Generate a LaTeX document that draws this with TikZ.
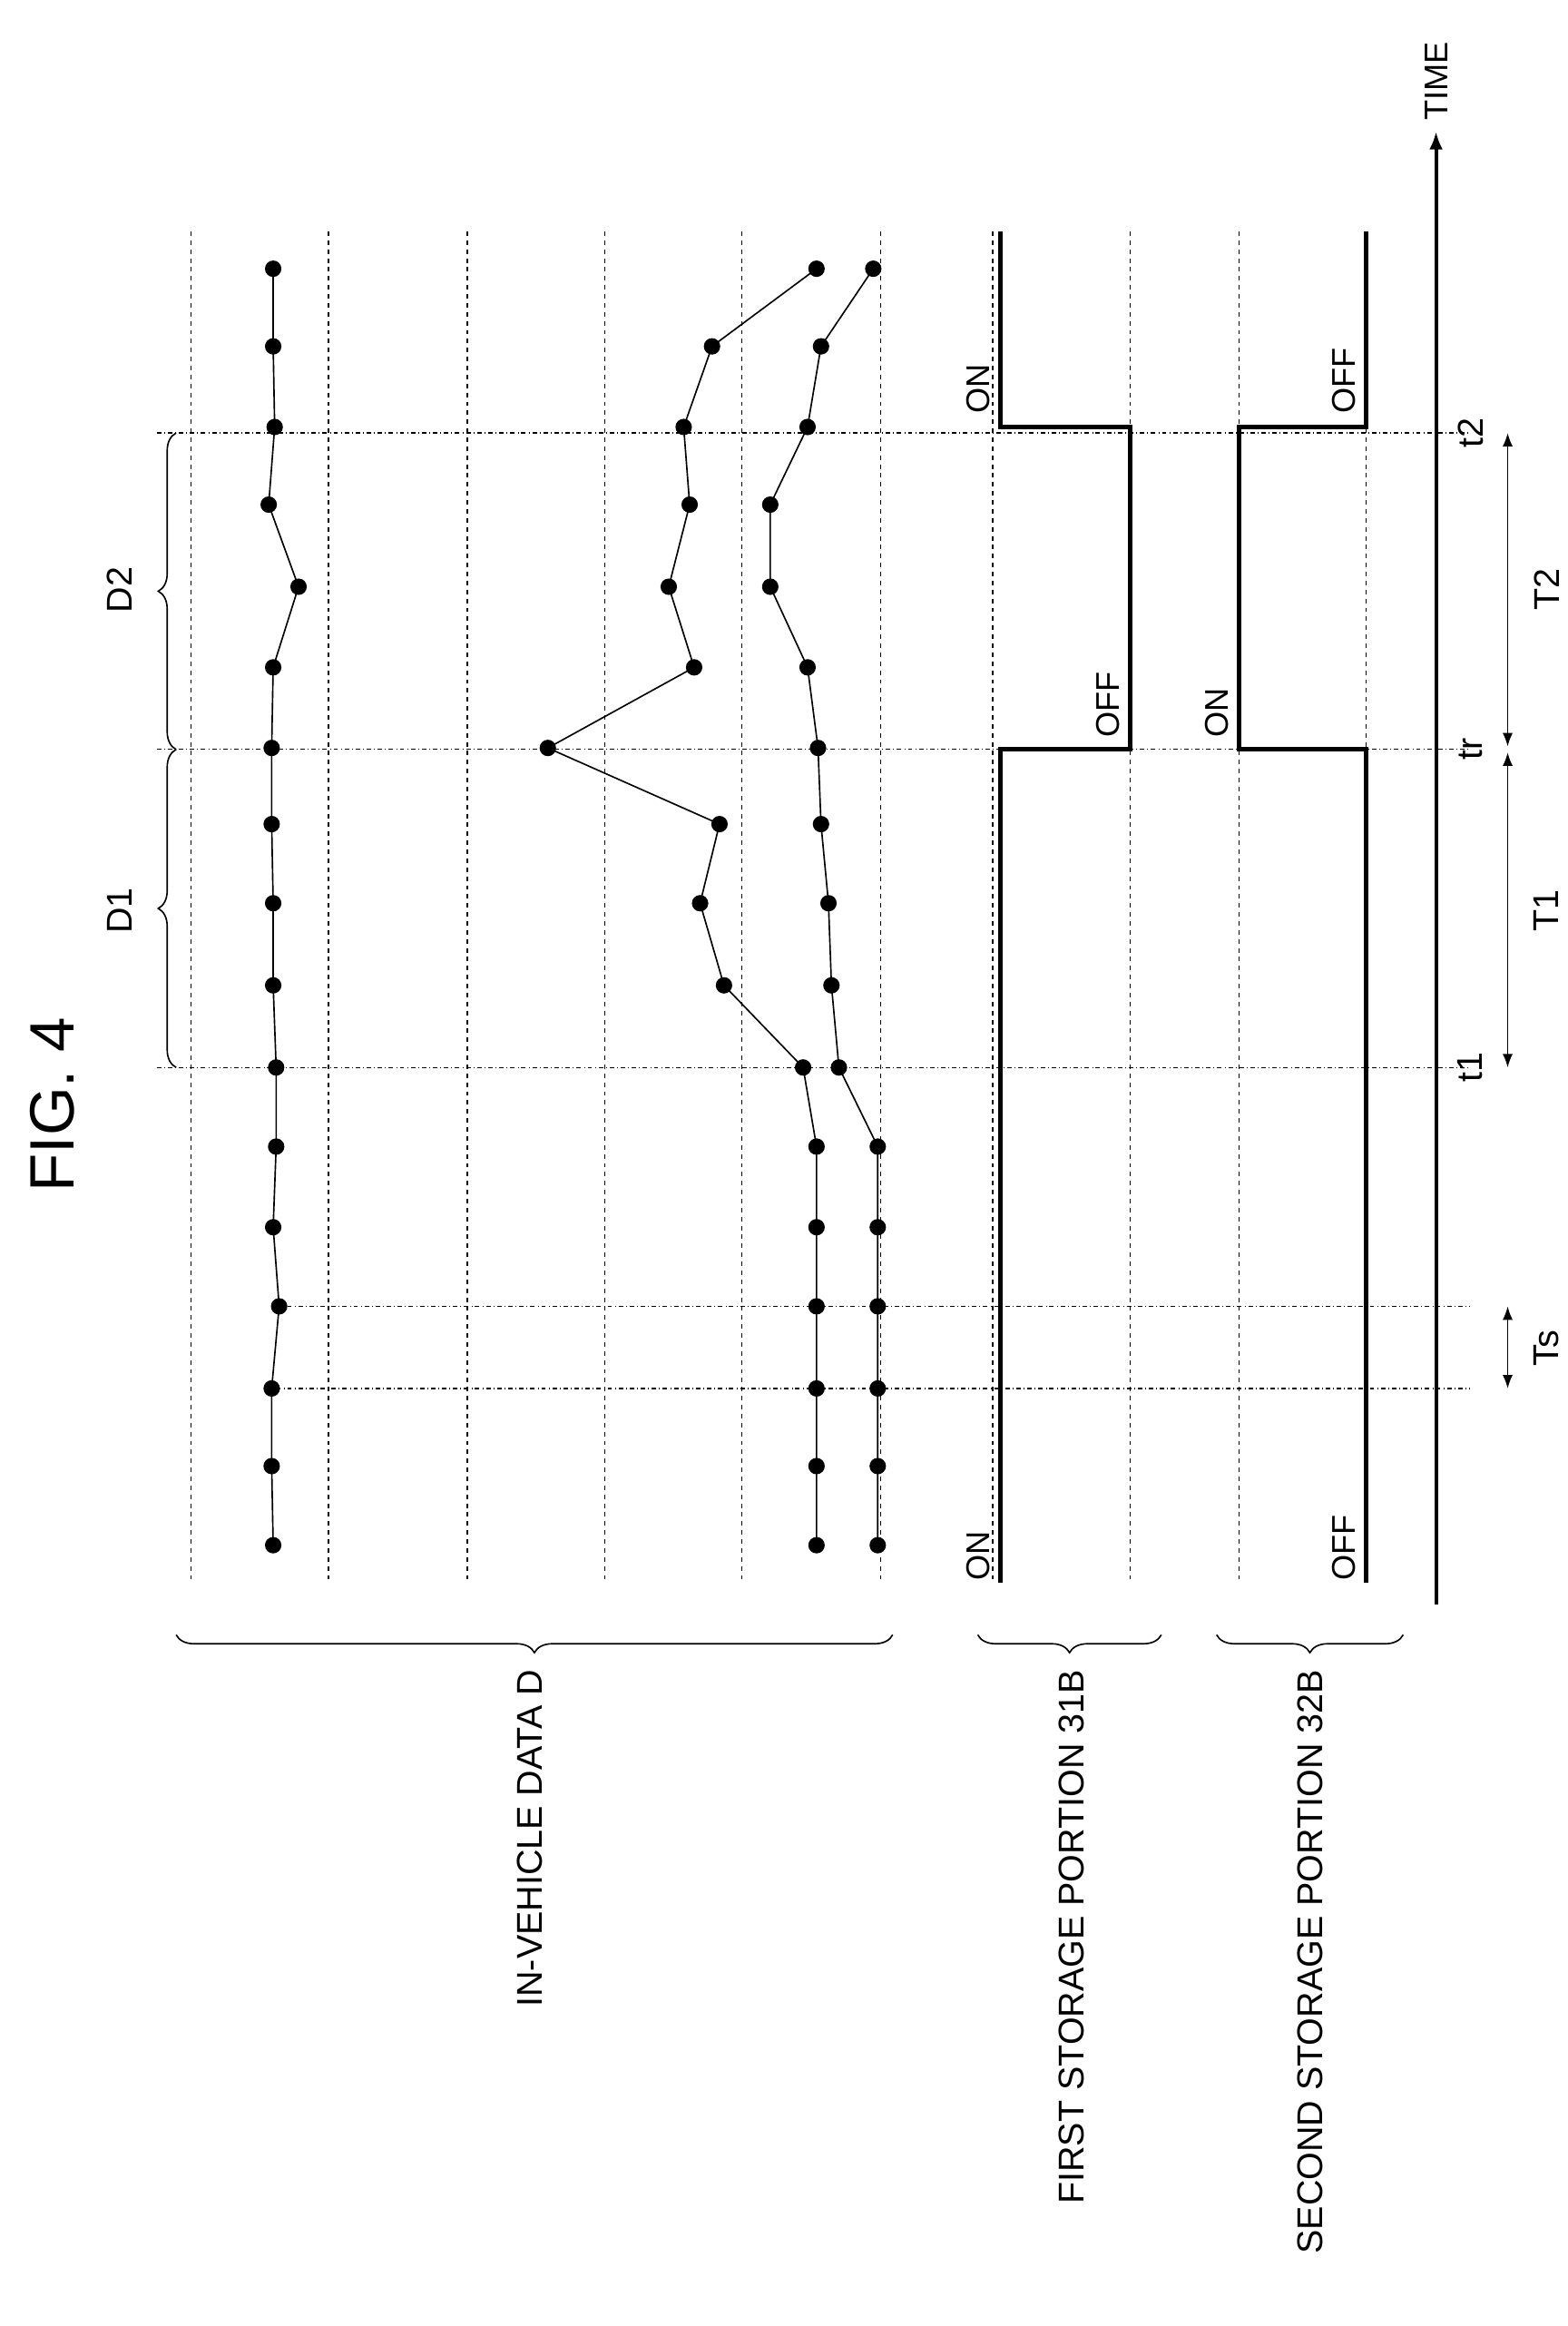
\documentclass[tikz,border=0pt]{standalone}
\usepackage{fontspec}
\setmainfont{Liberation Sans}
\usetikzlibrary{decorations.pathreplacing,arrows.meta}
\begin{document}
\begin{tikzpicture}[x=1pt,y=-1pt,
    grid/.style={dashed,line width=0.8pt},
    tline/.style={dash dot,line width=0.8pt},
    sig/.style={line width=3pt},
    lbl/.style={rotate=90,font=\fontsize{24}{28}\selectfont},
    st/.style={lbl,anchor=south west,inner sep=1pt,font=\fontsize{22}{26}\selectfont},
    brc/.style={decorate,decoration={brace,amplitude=12pt},line width=1pt}]
    \useasboundingbox (0,0) rectangle (1050,1558);
    % title
    \node[lbl,font=\fontsize{42}{46}\selectfont] (fig) at (35,740) {FIG. 4};
    % grid lines
    \foreach \x in {128,220,313,405,497,590,665,757,830,915}
        \draw[grid] (\x,155) -- (\x,1060);
    \foreach \y in {290,502,715}
        \draw[tline] (105,\y) -- (985,\y);
    \foreach \y in {875,930}
        \draw[tline] (185,\y) -- (985,\y);
    % time axis
    \coordinate (a0) at (962,1075);
    \coordinate (a1) at (962,88);
    \draw[line width=2.5pt,-{Latex[length=12pt]}] (a0) -- (a1);
    \node[lbl,anchor=west,font=\fontsize{22}{26}\selectfont] (time) at (962,84) {TIME};
    % data
    \draw[line width=1pt] plot[mark=*,mark size=5pt] coordinates {(183,180)(183,232)(184,286)(180,338)(200,393)(183,447)(182,501)(182,552)(183,605)(183,660)(185,715)(185,768)(183,822)(187,875)(182,930)(182,982)(183,1035)};
    \draw[line width=1pt] plot[mark=*,mark size=5pt] coordinates {(547,180)(477,232)(458,286)(462,338)(448,393)(465,447)(367,501)(482,552)(469,605)(485,660)(538,715)(547,768)(547,822)(547,875)(547,930)(547,982)(547,1035)};
    \draw[line width=1pt] plot[mark=*,mark size=5pt] coordinates {(585,180)(550,232)(541,286)(516,338)(516,393)(541,447)(548,501)(550,552)(555,605)(557,660)(562,715)(588,768)(588,822)(588,875)(588,930)(588,982)(588,1035)};
    % storage signals
    \draw[sig] (670,1060) -- (670,502) -- (757,502) -- (757,286) -- (670,286) -- (670,155);
    \draw[sig] (915,1060) -- (915,502) -- (830,502) -- (830,286) -- (915,286) -- (915,155);
    \node[st] (on1) at (664,1060) {ON};
    \node[st] (off1) at (751,495) {OFF};
    \node[st] (on2) at (664,278) {ON};
    \node[st] (off2) at (909,1060) {OFF};
    \node[st] (on3) at (824,495) {ON};
    \node[st] (off3) at (909,278) {OFF};
    % braces
    \draw[brc] (598,1095) -- (118,1095);
    \draw[brc] (778,1095) -- (655,1095);
    \draw[brc] (940,1095) -- (815,1095);
    \node[lbl,anchor=east] (ivd) at (355,1115) {IN-VEHICLE DATA D};
    \node[lbl,anchor=east] (fsp) at (718,1115) {FIRST STORAGE PORTION 31B};
    \node[lbl,anchor=east] (ssp) at (878,1115) {SECOND STORAGE PORTION 32B};
    \draw[brc] (118,715) -- (118,502);
    \draw[brc] (118,502) -- (118,290);
    \node[lbl] (d1) at (80,610) {D1};
    \node[lbl] (d2) at (80,395) {D2};
    % time marks
    \node[lbl] (t1) at (985,715) {t1};
    \node[lbl] (tr) at (985,502) {tr};
    \node[lbl] (t2) at (985,290) {t2};
    \draw[{Latex[length=9pt]}-{Latex[length=9pt]},line width=1pt] (1010,715) -- (1010,504);
    \draw[{Latex[length=9pt]}-{Latex[length=9pt]},line width=1pt] (1010,500) -- (1010,290);
    \draw[{Latex[length=9pt]}-{Latex[length=9pt]},line width=1pt] (1010,875) -- (1010,930);
    \node[lbl] (T1) at (1036,610) {T1};
    \node[lbl] (T2) at (1036,395) {T2};
    \node[lbl] (Ts) at (1036,903) {Ts};
\end{tikzpicture}
\end{document}
